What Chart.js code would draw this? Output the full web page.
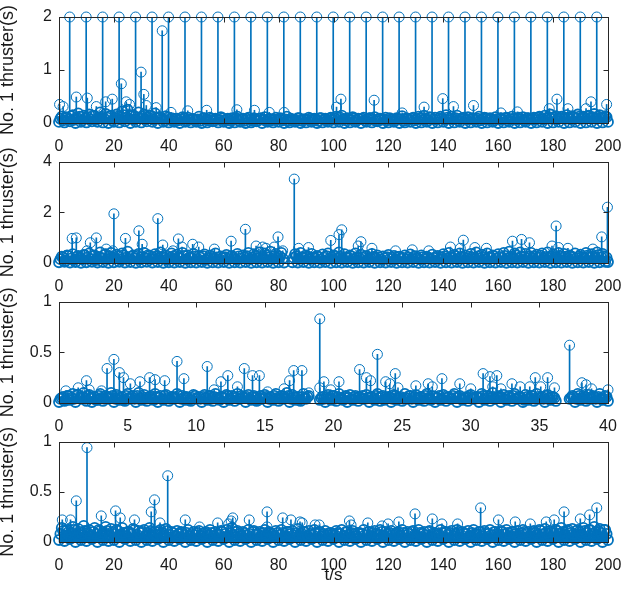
<!DOCTYPE html>
<html>
<head>
<meta charset="utf-8">
<title>No. 1 thruster stem plots</title>
<script src="https://cdn.jsdelivr.net/npm/chart.js@4.4.1/dist/chart.umd.min.js"></script>
<style>
  html, body { margin: 0; padding: 0; background: #fff; overflow: hidden; }
  #wrap { position: relative; width: 624px; height: 595px; }
  canvas { position: absolute; left: 0; }
</style>
</head>
<body>
<div id="wrap">
  <canvas id="p1" width="624" height="153" style="top:0px"></canvas>
  <canvas id="p2" width="624" height="148" style="top:145px"></canvas>
  <canvas id="p3" width="624" height="148" style="top:285px"></canvas>
  <canvas id="p4" width="624" height="170" style="top:425px"></canvas>
</div>
<script>
// ---- data ----
// dense low band: one sample per second (panel 3: every 0.2 s) starting at 0,
// plus a second band half a step later; null = no sample
const p1Band = [
  0.02,0.12,0.01,0.10,0.03,0.15,0.00,0.18,0.02,0.14,
  0.01,0.16,0.03,0.13,0.02,0.20,0.01,0.17,0.00,0.14,
  0.02,0.16,0.01,0.22,0.03,0.25,0.00,0.15,0.02,0.20,
  0.01,0.16,0.03,0.14,0.02,0.18,0.00,0.11,0.02,0.13,
  0.01,0.09,0.02,0.08,0.00,0.11,0.02,0.10,0.01,0.07,
  0.02,0.12,0.00,0.09,0.01,0.10,0.03,0.08,0.01,0.11,
  0.02,0.07,0.00,0.09,0.01,0.12,0.02,0.08,0.00,0.10,
  0.01,0.09,0.03,0.08,0.00,0.11,0.02,0.07,0.01,0.10,
  0.02,0.08,0.00,0.12,0.01,0.06,0.02,0.09,0.00,0.07,
  0.01,0.10,0.02,0.08,0.00,0.09,0.01,0.08,0.02,0.10,
  0.01,0.12,0.02,0.14,0.00,0.09,0.01,0.11,0.02,0.08,
  0.00,0.10,0.02,0.09,0.01,0.11,0.03,0.08,0.00,0.10,
  0.01,0.07,0.02,0.09,0.00,0.13,0.01,0.08,0.02,0.10,
  0.00,0.12,0.01,0.14,0.02,0.11,0.00,0.10,0.01,0.12,
  0.02,0.15,0.00,0.12,0.01,0.14,0.02,0.09,0.00,0.11,
  0.01,0.08,0.02,0.12,0.00,0.10,0.01,0.09,0.02,0.11,
  0.00,0.09,0.01,0.10,0.02,0.12,0.00,0.08,0.01,0.11,
  0.02,0.09,0.00,0.10,0.01,0.12,0.02,0.14,0.00,0.16,
  0.01,0.13,0.02,0.12,0.00,0.15,0.01,0.13,0.02,0.16,
  0.00,0.12,0.01,0.14,0.02,0.17,0.00,0.15,0.01,0.13,
  0.02
];
const p1Mid = [
  0.08,0.05,0.11,0.07,0.13,0.06,0.10,0.12,0.05,0.09,
  0.11,0.07,0.14,0.06,0.09,0.12,0.08,0.10,0.13,0.05,
  0.09,0.12,0.07,0.15,0.10,0.08,0.13,0.06,0.11,0.09,
  0.12,0.07,0.10,0.14,0.06,0.09,0.11,0.08,0.05,0.10,
  0.06,0.04,0.08,0.05,0.07,0.09,0.04,0.06,0.08,0.05,
  0.07,0.04,0.09,0.06,0.05,0.08,0.04,0.07,0.06,0.09,
  0.05,0.08,0.04,0.06,0.09,0.05,0.07,0.04,0.08,0.06,
  0.04,0.07,0.05,0.09,0.06,0.04,0.08,0.05,0.07,0.06,
  0.09,0.05,0.07,0.04,0.08,0.06,0.05,0.09,0.04,0.07,
  0.06,0.08,0.05,0.07,0.04,0.09,0.06,0.05,0.08,0.06,
  0.09,0.06,0.10,0.07,0.05,0.08,0.06,0.09,0.05,0.07,
  0.08,0.05,0.07,0.09,0.06,0.04,0.08,0.06,0.07,0.05,
  0.09,0.06,0.05,0.08,0.07,0.04,0.09,0.06,0.08,0.05,
  0.07,0.09,0.06,0.08,0.05,0.10,0.07,0.06,0.09,0.08,
  0.06,0.10,0.08,0.07,0.09,0.05,0.08,0.10,0.06,0.07,
  0.09,0.06,0.08,0.05,0.07,0.09,0.06,0.08,0.05,0.07,
  0.08,0.06,0.09,0.05,0.07,0.08,0.06,0.10,0.07,0.05,
  0.09,0.07,0.08,0.06,0.10,0.08,0.07,0.09,0.11,0.08,
  0.10,0.07,0.09,0.12,0.08,0.10,0.07,0.11,0.09,0.12,
  0.08,0.10,0.13,0.09,0.11,0.08,0.12,0.10,0.09,0.11
];
const p1PeakT = [3.9,9.9,15.9,21.9,27.9,33.9,39.9,45.9,51.9,57.9,63.9,69.9,75.9,81.9,87.9,93.9,99.9,
  105.9,111.9,117.9,123.9,129.9,135.9,141.9,147.9,153.9,159.9,165.9,171.9,177.9,183.9,189.9,195.9];
const p1PeakV = [2,2,2,2,2,2,2,2,2,2,2,2,2,2,2,2,2,2,2,2,2,2,2,2,2,2,2,2,2,2,2,2,2];
const p1SpikeT = [37.6,29.9,22.7,30.9,10.3,6.3,0.2,1.5,19.4,17,24.5,25.7,35.4,31.8,13.6,40.8,46.9,53.8,64.8,
  71.2,76.6,82,102.7,101.1,114.8,139.8,143.7,133,151,181.4,178.6,185.4,193.8,192,199.5,125,167,161];
const p1SpikeV = [1.74,0.96,0.74,0.54,0.47,0.49,0.35,0.31,0.45,0.40,0.40,0.35,0.29,0.33,0.31,0.20,0.23,0.24,0.25,
  0.24,0.20,0.20,0.45,0.30,0.43,0.46,0.31,0.30,0.33,0.45,0.27,0.27,0.40,0.27,0.35,0.19,0.21,0.19];

const p2Band = [
  0.03,0.25,0.05,0.30,0.02,0.35,0.04,0.28,0.01,0.32,
  0.03,0.38,0.05,0.30,0.02,0.42,0.04,0.35,0.01,0.40,
  0.03,0.33,0.05,0.38,0.02,0.45,0.04,0.30,0.01,0.36,
  0.03,0.40,0.05,0.28,0.02,0.35,0.04,0.42,0.01,0.30,
  0.03,0.38,0.02,0.33,0.04,0.40,0.01,0.30,0.03,0.36,
  0.02,0.28,0.04,0.34,0.01,0.30,0.03,0.38,0.02,0.26,
  0.04,0.32,0.01,0.28,0.03,0.36,0.02,0.30,0.04,0.40,
  0.01,0.35,0.03,0.42,0.02,0.38,0.04,0.45,0.01,0.36,
  0.03,0.40,0.02,null,null,0.03,0.35,0.02,0.40,0.04,
  0.30,0.01,0.36,0.03,0.28,0.02,0.34,0.04,0.38,0.01,
  0.30,0.03,0.42,0.02,0.35,0.04,0.30,0.01,0.38,0.03,
  0.33,0.02,0.28,0.04,0.36,0.01,0.30,0.03,0.26,0.02,
  0.32,0.04,0.28,0.01,0.25,0.03,0.30,0.02,0.34,0.04,
  0.27,0.01,0.30,0.03,0.25,0.02,0.33,0.04,0.28,0.01,
  0.35,0.03,0.40,0.02,0.32,0.04,0.38,0.01,0.30,0.03,
  0.36,0.02,0.42,0.04,0.33,0.01,0.38,0.03,0.30,0.02,
  0.35,0.04,0.40,0.01,0.45,0.03,0.38,0.02,0.42,0.04,
  0.36,0.01,0.40,0.03,0.33,0.02,0.38,0.04,0.42,0.01,
  0.35,0.03,0.40,0.02,0.36,0.04,0.30,0.01,0.38,0.03,
  0.33,0.02,0.40,0.04,0.35,0.01,0.42,0.03,0.36,0.05,
  0.04
];
const p2Mid = [
  0.15,0.22,0.10,0.28,0.18,0.12,0.25,0.20,0.14,0.30,
  0.22,0.16,0.28,0.12,0.24,0.19,0.32,0.15,0.26,0.20,
  0.18,0.27,0.13,0.30,0.21,0.16,0.25,0.19,0.28,0.14,
  0.24,0.20,0.31,0.15,0.22,0.27,0.17,0.25,0.20,0.13,
  0.21,0.26,0.15,0.23,0.18,0.28,0.14,0.22,0.19,0.25,
  0.16,0.21,0.27,0.13,0.20,0.24,0.17,0.22,0.15,0.19,
  0.23,0.16,0.25,0.20,0.14,0.26,0.18,0.22,0.27,0.15,
  0.21,0.28,0.17,0.24,0.19,0.30,0.22,0.16,0.26,0.20,
  0.25,0.18,null,null,null,0.21,0.27,0.16,0.23,0.19,
  0.26,0.15,0.22,0.18,0.24,0.14,0.21,0.27,0.17,0.23,
  0.28,0.19,0.25,0.16,0.22,0.20,0.26,0.14,0.23,0.18,
  0.21,0.25,0.15,0.20,0.24,0.17,0.22,0.13,0.19,0.23,
  0.16,0.21,0.14,0.24,0.18,0.20,0.15,0.22,0.17,0.25,
  0.19,0.14,0.23,0.17,0.21,0.16,0.20,0.24,0.15,0.22,
  0.26,0.18,0.23,0.20,0.27,0.16,0.24,0.21,0.18,0.25,
  0.22,0.17,0.26,0.19,0.24,0.15,0.23,0.20,0.27,0.18,
  0.24,0.21,0.28,0.17,0.25,0.22,0.30,0.19,0.26,0.23,
  0.20,0.27,0.18,0.25,0.22,0.29,0.17,0.24,0.21,0.26,
  0.23,0.19,0.28,0.21,0.25,0.18,0.27,0.22,0.20,0.26,
  0.24,0.18,0.29,0.22,0.26,0.20,0.31,0.23,0.27,0.21
];
const p2SpikeT = [85.7,20,36,67.9,29.1,79.8,4.8,6.3,13.6,24.2,43.5,62.7,30.3,37.8,44.8,48.7,50.9,11.4,10.2,
  71.8,74.2,75.4,78.4,56.6,87.3,90.9,17.2,19.6,2.7,41.5,81.5,199.8,181.1,103,102,99,197.7,147.3,168.5,
  165.2,171.4,110,109,142.6,146.2,179.6,182,185.4,194.5,114,155.7,151.5,122.6,128.7,134.7,199.9];
const p2SpikeV = [3.31,1.94,1.75,1.33,1.27,1.03,0.97,0.99,0.99,0.97,0.95,0.86,0.74,0.71,0.63,0.74,0.63,0.80,0.48,
  0.67,0.63,0.58,0.63,0.55,0.58,0.61,0.55,0.48,0.30,0.48,0.48,2.20,1.46,1.31,1.12,0.89,1.03,0.90,0.93,
  0.86,0.80,0.84,0.67,0.63,0.58,0.67,0.61,0.58,0.55,0.58,0.58,0.61,0.48,0.52,0.48,0.08];

const p3Band = [
  0.01,0.05,0.02,0.07,0.03,0.09,0.01,0.08,0.04,0.10,
  0.02,0.08,0.01,0.06,0.03,0.09,0.02,0.07,0.04,0.10,
  0.01,0.08,0.03,0.06,0.02,0.09,0.04,0.07,0.01,0.10,
  0.03,0.08,0.02,0.06,0.04,0.09,0.01,0.07,0.03,0.08,
  0.02,0.06,0.04,0.09,0.01,0.07,0.03,0.05,0.02,0.08,
  0.04,0.06,0.01,0.08,0.03,0.07,0.02,0.09,0.04,0.06,
  0.01,0.08,0.03,0.07,0.02,0.09,0.04,0.06,0.01,0.08,
  0.03,0.07,0.02,0.05,0.04,0.08,0.01,0.06,0.03,0.09,
  0.02,0.07,0.04,0.10,0.01,0.08,0.03,0.06,0.02,0.09,
  0.04,0.07,null,null,null,0.03,0.06,0.01,0.08,0.03,
  0.07,0.02,0.09,0.04,0.06,0.01,0.08,0.03,0.07,0.02,
  0.05,0.04,0.08,0.01,0.06,0.03,0.09,0.02,0.07,0.04,
  0.06,0.01,0.08,0.03,0.05,0.02,0.09,0.04,0.07,0.01,
  0.08,0.03,0.06,0.02,0.09,0.04,0.07,0.01,0.05,0.03,
  0.08,0.02,0.06,0.04,0.09,0.01,0.07,0.03,0.05,0.02,
  0.08,0.04,0.06,0.01,0.09,0.03,0.07,0.02,0.10,0.04,
  0.06,0.01,0.08,0.03,0.07,0.02,0.09,0.04,0.06,0.01,
  0.08,0.03,0.07,0.02,0.09,0.04,0.06,0.01,0.08,0.03,
  0.06,0.02,null,null,null,null,0.04,0.07,0.01,0.09,
  0.03,0.07,0.02,0.08,0.04,0.06,0.01,0.09,0.03,0.07,
  0.02
];
const p3Mid = [
  0.04,0.06,0.03,0.07,0.05,0.04,0.08,0.05,0.06,0.04,
  0.07,0.05,0.06,0.03,0.07,0.05,0.04,0.06,0.05,0.07,
  0.04,0.06,0.05,0.03,0.07,0.05,0.06,0.04,0.07,0.05,
  0.06,0.04,0.05,0.07,0.03,0.06,0.05,0.04,0.07,0.05,
  0.04,0.06,0.05,0.07,0.04,0.05,0.06,0.03,0.05,0.07,
  0.05,0.04,0.06,0.05,0.07,0.04,0.06,0.05,0.03,0.06,
  0.05,0.07,0.04,0.06,0.05,0.04,0.07,0.05,0.06,0.04,
  0.06,0.05,0.03,0.07,0.05,0.06,0.04,0.05,0.07,0.05,
  0.04,0.06,0.05,0.07,0.04,0.06,0.05,0.03,0.06,0.05,
  0.06,null,null,null,null,0.05,0.04,0.06,0.05,0.07,
  0.04,0.06,0.05,0.03,0.07,0.05,0.04,0.06,0.05,0.06,
  0.07,0.04,0.05,0.06,0.04,0.07,0.05,0.06,0.03,0.05,
  0.06,0.04,0.07,0.05,0.06,0.04,0.05,0.07,0.04,0.06,
  0.05,0.06,0.04,0.07,0.05,0.03,0.06,0.05,0.07,0.04,
  0.06,0.05,0.04,0.07,0.05,0.06,0.04,0.05,0.06,0.07,
  0.05,0.04,0.06,0.05,0.07,0.04,0.06,0.05,0.04,0.06,
  0.07,0.05,0.04,0.06,0.05,0.07,0.04,0.06,0.05,0.03,
  0.06,0.05,0.07,0.04,0.06,0.05,0.04,0.07,0.05,0.06,
  0.05,null,null,null,null,null,0.05,0.06,0.04,0.07,
  0.05,0.06,0.04,0.05,0.07,0.04,0.06,0.05,0.04,0.06
];
const p3SpikeT = [19.0,4.0,8.6,10.8,3.5,13.5,14.1,14.6,17.1,17.7,4.4,4.7,6.6,7.0,7.7,9.1,12.3,11.8,5.9,5.2,
  2.0,2.2,3.1,16.8,16.4,13.0,15.2,1.4,0.5,11.3,18.2,23.2,37.2,21.9,24.5,22.4,22.7,20.4,19.3,19.0,23.8,
  24.1,24.7,26.0,26.9,27.2,27.9,29.2,30.0,30.9,31.4,31.9,31.6,32.2,33.0,33.6,34.3,34.7,35.6,35.1,36.1,
  38.1,38.4,38.8,40.0,19.8];
const p3SpikeV = [0.83,0.43,0.41,0.36,0.34,0.34,0.27,0.27,0.32,0.32,0.30,0.25,0.25,0.23,0.22,0.24,0.27,0.21,0.21,0.19,
  0.22,0.13,0.12,0.22,0.14,0.16,0.11,0.15,0.12,0.13,0.10,0.48,0.57,0.33,0.29,0.25,0.22,0.21,0.21,0.15,0.21,
  0.19,0.15,0.17,0.19,0.16,0.24,0.19,0.14,0.29,0.26,0.27,0.16,0.14,0.19,0.16,0.16,0.25,0.25,0.16,0.15,
  0.20,0.18,0.14,0.13,0.13];

const p4Band = [
  0.02,0.14,0.01,0.12,0.03,0.15,0.00,0.13,0.02,0.16,
  0.01,0.12,0.03,0.14,0.00,0.11,0.02,0.15,0.01,0.13,
  0.02,0.12,0.00,0.14,0.03,0.10,0.01,0.13,0.02,0.11,
  0.00,0.12,0.02,0.14,0.01,0.10,0.03,0.12,0.00,0.13,
  0.02,0.10,0.01,0.11,0.03,0.09,0.00,0.12,0.02,0.10,
  0.01,0.11,0.03,0.09,0.00,0.12,0.02,0.10,0.01,0.11,
  0.03,0.12,0.00,0.14,0.02,0.11,0.01,0.10,0.03,0.12,
  0.00,0.11,0.02,0.10,0.01,0.12,0.03,0.09,0.00,0.11,
  0.02,0.12,0.01,0.10,0.03,0.11,0.00,0.13,0.02,0.10,
  0.01,0.11,0.03,0.12,0.00,0.10,0.02,0.11,0.01,0.09,
  0.03,0.11,0.00,0.12,0.02,0.10,0.01,0.11,0.03,0.09,
  0.00,0.12,0.02,0.10,0.01,0.11,0.03,0.12,0.00,0.10,
  0.02,0.11,0.01,0.09,0.03,0.12,0.00,0.10,0.02,0.11,
  0.01,0.12,0.03,0.10,0.00,0.11,0.02,0.09,0.01,0.12,
  0.03,0.10,0.00,0.11,0.02,0.12,0.01,0.10,0.03,0.11,
  0.00,0.12,0.02,0.10,0.01,0.11,0.03,0.12,0.00,0.10,
  0.02,0.11,0.01,0.12,0.03,0.10,0.00,0.11,0.02,0.12,
  0.01,0.10,0.03,0.11,0.00,0.12,0.02,0.13,0.01,0.11,
  0.03,0.12,0.00,0.14,0.02,0.11,0.01,0.13,0.03,0.12,
  0.00,0.14,0.02,0.12,0.01,0.15,0.03,0.13,0.00,0.12,
  0.02
];
const p4Mid = [
  0.08,0.11,0.06,0.10,0.09,0.12,0.07,0.10,0.08,0.11,
  0.09,0.06,0.10,0.08,0.12,0.07,0.09,0.11,0.06,0.10,
  0.08,0.11,0.07,0.09,0.06,0.10,0.08,0.12,0.07,0.09,
  0.10,0.06,0.09,0.11,0.08,0.07,0.10,0.09,0.06,0.11,
  0.07,0.09,0.06,0.08,0.10,0.07,0.09,0.06,0.08,0.07,
  0.09,0.06,0.08,0.10,0.07,0.09,0.06,0.08,0.07,0.10,
  0.08,0.06,0.09,0.07,0.10,0.08,0.06,0.09,0.07,0.08,
  0.10,0.07,0.08,0.06,0.09,0.07,0.10,0.08,0.06,0.09,
  0.07,0.09,0.06,0.10,0.08,0.07,0.09,0.06,0.08,0.10,
  0.06,0.08,0.07,0.09,0.10,0.06,0.08,0.07,0.09,0.08,
  0.07,0.09,0.08,0.06,0.10,0.07,0.09,0.08,0.06,0.09,
  0.08,0.07,0.10,0.06,0.09,0.08,0.07,0.10,0.06,0.08,
  0.09,0.07,0.08,0.10,0.06,0.09,0.07,0.08,0.10,0.07,
  0.06,0.09,0.08,0.07,0.10,0.06,0.09,0.08,0.07,0.09,
  0.10,0.07,0.09,0.06,0.08,0.10,0.07,0.09,0.08,0.06,
  0.09,0.08,0.07,0.10,0.06,0.09,0.08,0.07,0.10,0.08,
  0.07,0.10,0.08,0.09,0.06,0.10,0.08,0.07,0.09,0.10,
  0.08,0.06,0.10,0.09,0.07,0.11,0.08,0.09,0.07,0.10,
  0.09,0.11,0.08,0.10,0.07,0.12,0.09,0.08,0.11,0.10,
  0.07,0.11,0.09,0.12,0.08,0.10,0.11,0.09,0.12,0.08
];
const p4SpikeT = [10.2,39.6,6.3,34.8,33.6,20.6,22.3,15.4,75.8,75.8,69.3,81.5,84.5,87.8,63.3,62.7,61.8,46,36.8,
  1.2,4.2,27.5,57.8,51.2,93.3,153.6,195.9,129.7,184,193.3,189.9,136,123.8,160.1,166.2,171.7,177.5,180.4,
  112.5,105.8,106.4,139.5,145.2,119.9,117.7,94.8,88.6];
const p4SpikeV = [0.94,0.66,0.41,0.42,0.30,0.31,0.24,0.26,0.30,0.15,0.22,0.24,0.22,0.20,0.24,0.21,0.18,0.22,0.19,
  0.22,0.22,0.22,0.19,0.15,0.17,0.34,0.34,0.28,0.30,0.27,0.23,0.23,0.20,0.22,0.20,0.18,0.20,0.22,
  0.19,0.21,0.17,0.18,0.18,0.18,0.16,0.17,0.19];

// axis setup per panel
const xMaxLong = 200, xStepLong = 20;
const xMaxShort = 40, xStepShort = 5;
const yLabel = 'No. 1 thruster(s)';
const xLabel = 't/s';

const stemBlue = '#0072BD';
const axisColor = '#262626';
const fontFamily = 'Liberation Sans, Arial, sans-serif';

// band samples as {x, y}
function bandPoints(band, mid, step) {
  const pts = [];
  band.forEach((v, i) => { if (v !== null) pts.push({ x: i * step, y: v }); });
  mid.forEach((v, i) => { if (v !== null) pts.push({ x: step / 2 + i * step, y: v }); });
  return pts;
}
function spikePoints(times, values) {
  return times.map((t, i) => ({ x: t, y: values[i] }));
}

// MATLAB style box with inward ticks on all four sides
const boxPlugin = {
  id: 'boxTicks',
  afterDatasetsDraw(chart) {
    const { ctx, chartArea: a, scales: { x, y } } = chart;
    const L = Math.round(a.left) + 0.5, R = Math.round(a.right) + 0.5;
    const T = Math.round(a.top) + 0.5, B = Math.round(a.bottom) + 0.5;
    const len = 5;
    ctx.save();
    ctx.strokeStyle = axisColor;
    ctx.lineWidth = 1;
    ctx.beginPath();
    x.ticks.forEach(t => {
      const px = Math.round(x.getPixelForValue(t.value)) + 0.5;
      ctx.moveTo(px, B); ctx.lineTo(px, B - len);
      ctx.moveTo(px, T); ctx.lineTo(px, T + len);
    });
    y.ticks.forEach(t => {
      const py = Math.round(y.getPixelForValue(t.value)) + 0.5;
      ctx.moveTo(L, py); ctx.lineTo(L + len, py);
      ctx.moveTo(R, py); ctx.lineTo(R - len, py);
    });
    ctx.stroke();
    ctx.strokeRect(L, T, R - L, B - T);
    ctx.restore();
  }
};

// stems as thin bars, heads as open circles; the packed band gets heavier strokes
function stemSets(points, stemWidth, ringWidth) {
  return [
    { type: 'bar', data: points, backgroundColor: stemBlue, borderWidth: 0,
      barThickness: stemWidth, grouped: false, order: 2 },
    { type: 'scatter', data: points, showLine: false, pointStyle: 'circle', pointRadius: 5,
      pointBorderWidth: ringWidth, borderColor: stemBlue, backgroundColor: 'rgba(0,0,0,0)',
      clip: false, order: 1 }
  ];
}

function makePanel(id, band, spikes, xMax, xStep, yMax, yStep, padTop, xAxisHeight, showXTitle) {
  return new Chart(document.getElementById(id), {
    type: 'scatter',
    data: { datasets: stemSets(band, 2.5, 1.8).concat(stemSets(spikes, 1, 1)) },
    options: {
      responsive: false,
      animation: false,
      events: [],
      layout: { padding: { top: padTop, right: 16, left: 0, bottom: 0 } },
      plugins: { legend: { display: false }, tooltip: { enabled: false } },
      scales: {
        x: {
          type: 'linear',
          min: 0, max: xMax,
          offset: false,
          grid: { display: false, drawTicks: false },
          border: { display: false },
          ticks: {
            stepSize: xStep, autoSkip: false, maxRotation: 0, padding: 14,
            color: '#1a1a1a', font: { family: fontFamily, size: 16 }
          },
          title: {
            display: showXTitle, text: xLabel, color: '#1a1a1a',
            padding: { top: 0, bottom: 9 },
            font: { family: fontFamily, size: 17 }
          },
          afterFit(scale) {
            scale.height = xAxisHeight;
            scale.paddingLeft = 0;
            scale.paddingRight = 0;
          }
        },
        y: {
          type: 'linear',
          min: 0, max: yMax,
          grid: { display: false, drawTicks: false },
          border: { display: false },
          ticks: {
            stepSize: yStep, padding: 7,
            color: '#1a1a1a', font: { family: fontFamily, size: 16 },
            callback: v => String(v)
          },
          title: {
            display: true, text: yLabel, color: '#1a1a1a',
            padding: { top: -3, bottom: 0 },
            font: { family: fontFamily, size: 18 }
          },
          afterFit(scale) { scale.width = 59; }
        }
      }
    },
    plugins: [boxPlugin]
  });
}

makePanel('p1', bandPoints(p1Band, p1Mid, 1),
  spikePoints(p1SpikeT.concat(p1PeakT), p1SpikeV.concat(p1PeakV)),
  xMaxLong, xStepLong, 2, 1, 17, 30, false);
makePanel('p2', bandPoints(p2Band, p2Mid, 1), spikePoints(p2SpikeT, p2SpikeV),
  xMaxLong, xStepLong, 4, 2, 13, 30, false);
makePanel('p3', bandPoints(p3Band, p3Mid, 0.2), spikePoints(p3SpikeT, p3SpikeV),
  xMaxShort, xStepShort, 1, 0.5, 14, 30, false);
makePanel('p4', bandPoints(p4Band, p4Mid, 1), spikePoints(p4SpikeT, p4SpikeV),
  xMaxLong, xStepLong, 1, 0.5, 14, 53, true);
</script>
</body>
</html>
